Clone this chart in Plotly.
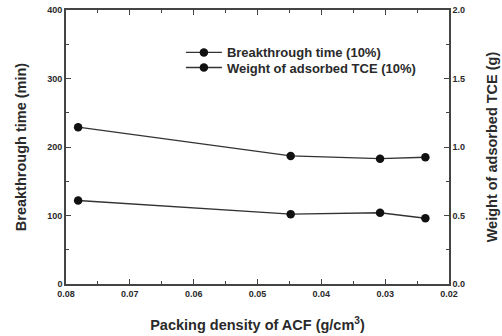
import plotly.graph_objects as go

# Packing density of ACF (g/cm3) and measured responses
density = [0.0781, 0.0448, 0.0308, 0.0237]
breakthrough_time = [229, 187, 183, 185]          # min, left axis
adsorbed_tce = [0.61, 0.51, 0.52, 0.48]           # g, right axis

x_ticks = [0.08, 0.07, 0.06, 0.05, 0.04, 0.03, 0.02]
y_ticks = [0, 100, 200, 300, 400]
y2_ticks = [0.0, 0.5, 1.0, 1.5, 2.0]

FONT = "Liberation Sans, Arial, sans-serif"
INK = "#2a2a2a"
AXIS = "#444444"

tick_font = dict(family=FONT, size=9, color=INK, weight="bold")
title_font = dict(family=FONT, size=14.5, color=INK, weight="bold")
legend_font = dict(family=FONT, size=13, color=INK, weight="bold")

line_style = dict(color="#333333", width=1.4)
marker_style = dict(color="#111111", size=8.5, symbol="circle")

fig = go.Figure()
fig.add_trace(go.Scatter(
    x=density, y=breakthrough_time, name="Breakthrough time (10%)",
    mode="lines+markers", line=line_style, marker=marker_style, legend="legend",
))
fig.add_trace(go.Scatter(
    x=density, y=adsorbed_tce, name="Weight of adsorbed TCE (10%)",
    yaxis="y2", mode="lines+markers", line=line_style, marker=marker_style,
    legend="legend2",
))

axis_common = dict(
    showline=True, linecolor=AXIS, linewidth=1.6, showgrid=False, zeroline=False,
    ticks="inside", ticklen=5, tickwidth=1, tickcolor=AXIS, tickfont=tick_font,
    automargin=False,
)
minor_common = dict(ticks="inside", ticklen=3, tickwidth=1, tickcolor=AXIS)

legend_common = dict(
    xanchor="left", yanchor="middle", bgcolor="rgba(0,0,0,0)",
    font=legend_font, itemwidth=36, borderwidth=0,
)

fig.update_layout(
    width=502, height=336,
    margin=dict(l=66, r=53, t=10, b=52),
    paper_bgcolor="white", plot_bgcolor="white",
    font=dict(family=FONT, color=INK),
    showlegend=True,
    legend=dict(legend_common, x=0.300, y=0.845),
    legend2=dict(legend_common, x=0.300, y=0.790),
    xaxis=dict(
        axis_common, range=[0.08, 0.02], tickvals=x_ticks,
        ticktext=[f"{v:.2f}" for v in x_ticks], mirror="ticks",
        minor=dict(minor_common, dtick=0.005),
        title=dict(text="Packing density of ACF (g/cm<sup>3</sup>)",
                   font=title_font, standoff=22),
    ),
    yaxis=dict(
        axis_common, range=[0, 400], tickvals=y_ticks,
        minor=dict(minor_common, dtick=50),
        title=dict(text="Breakthrough time (min)", font=title_font, standoff=17),
    ),
    yaxis2=dict(
        axis_common, range=[0, 2.0], tickvals=y2_ticks,
        ticktext=[f"{v:.1f}" for v in y2_ticks],
        overlaying="y", side="right",
        minor=dict(minor_common, dtick=0.25),
        title=dict(text="Weight of adsorbed TCE (g)", font=title_font, standoff=23),
    ),
)

fig.write_html("out.html")
